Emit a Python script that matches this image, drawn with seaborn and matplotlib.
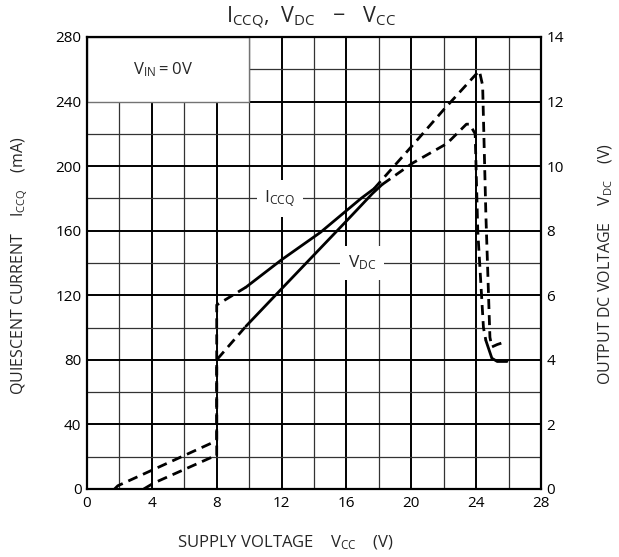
import numpy as np
import pandas as pd
import matplotlib
matplotlib.use("Agg")
import matplotlib.pyplot as plt
from matplotlib.patches import Rectangle
import seaborn as sns

sns.set_theme(style="white")
plt.rcParams["font.family"] = ["Open Sans", "DejaVu Sans"]
plt.rcParams["mathtext.default"] = "regular"

# supply voltage Vcc (V) vs quiescent current Iccq (mA), split into dashed / solid pieces
iccq_dash1_x = [1.7, 1.9, 7.8, 8.0, 8.0, 9.8]
iccq_dash1_y = [0, 2, 29, 30, 114, 125]
iccq_solid_x = [9.8, 12.0, 14.4, 16.9, 17.7]
iccq_solid_y = [125, 142, 159, 180, 186]
iccq_dash2_x = [17.7, 20.0, 22.0, 24.0, 24.2, 24.4, 24.6, 24.85, 24.97, 25.3, 25.9]
iccq_dash2_y = [186, 212, 235, 257, 259, 250, 170, 94, 88, 89.5, 91.5]

# output DC voltage Vdc (V)
vdc_solid1_x = [2.5, 3.5]
vdc_solid1_y = [0, 0]
vdc_dash1_x = [3.5, 4.1, 7.9, 8.0, 8.0, 9.8]
vdc_dash1_y = [0, 0.18, 1.03, 1.03, 4.0, 5.04]
vdc_solid2_x = [9.8, 12.0, 14.0, 16.0, 17.6, 18.2]
vdc_solid2_y = [5.04, 6.2, 7.25, 8.3, 9.15, 9.43]
vdc_dash2_x = [18.2, 20.1, 22.2, 23.4, 23.6, 23.94, 24.1, 24.45, 24.6]
vdc_dash2_y = [9.43, 10.1, 10.7, 11.3, 11.3, 11.0, 8.0, 5.0, 4.6]
vdc_solid3_x = [24.6, 24.97, 25.3, 25.9]
vdc_solid3_y = [4.6, 4.05, 3.95, 3.95]

x_ticks = [0, 4, 8, 12, 16, 20, 24, 28]
left_ticks = [0, 40, 80, 120, 160, 200, 240, 280]
right_ticks = [0, 2, 4, 6, 8, 10, 12, 14]


def frame(pieces):
    rows = []
    for i, (xs, ys, ls) in enumerate(pieces):
        for x, y in zip(xs, ys):
            rows.append({"vcc": x, "val": y, "seg": i, "ls": ls})
    return pd.DataFrame(rows)


df_i = frame([(iccq_dash1_x, iccq_dash1_y, "dashed"),
              (iccq_solid_x, iccq_solid_y, "solid"),
              (iccq_dash2_x, iccq_dash2_y, "dashed")])
df_v = frame([(vdc_solid1_x, vdc_solid1_y, "solid"),
              (vdc_dash1_x, vdc_dash1_y, "dashed"),
              (vdc_solid2_x, vdc_solid2_y, "solid"),
              (vdc_dash2_x, vdc_dash2_y, "dashed"),
              (vdc_solid3_x, vdc_solid3_y, "solid")])

dash_map = {"solid": "", "dashed": (3.6, 2.2)}

fig = plt.figure(figsize=(6.19, 5.57), dpi=100)
ax = fig.add_axes([87 / 619, 1 - 489 / 557, 454 / 619, 452 / 557])
ax.set_xlim(0, 28)
ax.set_ylim(0, 280)
ax.set_xticks(x_ticks)
ax.set_yticks(left_ticks)
ax.set_xticks(np.arange(0, 29, 2), minor=True)
ax.set_yticks(np.arange(0, 281, 20), minor=True)
ax.set_axisbelow(True)
ax.grid(which="major", color="black", lw=1.4)
ax.grid(which="minor", color="0.2", lw=0.9)
ax.tick_params(which="both", length=0, labelsize=11, colors="black")
ax.tick_params(axis="x", pad=5)
ax.tick_params(axis="y", pad=4)
for s in ax.spines.values():
    s.set_color("black")
    s.set_linewidth(1.6)

# blank box with the test condition
ax.add_patch(Rectangle((0, 240), 10, 40, facecolor="white", edgecolor="0.45",
                       lw=1.0, zorder=1))
ax.text(4.7, 260, r"$V_{IN} = 0V$", ha="center", va="center", fontsize=12, zorder=3)

sns.lineplot(data=df_i, x="vcc", y="val", units="seg", style="ls", dashes=dash_map,
             estimator=None, sort=False, color="black", lw=2.0, legend=False, ax=ax,
             zorder=2)
ax.set_xlabel("")
ax.set_ylabel("")

ax2 = ax.twinx()
ax2.set_ylim(0, 14)
ax2.set_yticks(right_ticks)
ax2.grid(False)
ax2.tick_params(length=0, labelsize=11, pad=4, colors="black")
for s in ax2.spines.values():
    s.set_visible(False)
sns.lineplot(data=df_v, x="vcc", y="val", units="seg", style="ls", dashes=dash_map,
             estimator=None, sort=False, color="black", lw=2.0, legend=False, ax=ax2)
ax2.set_xlabel("")
ax2.set_ylabel("")

box = dict(boxstyle="square,pad=0.45", facecolor="white", edgecolor="none")
ax.text(11.9, 180, r"$I_{CCQ}$", ha="center", va="center", fontsize=12.5, bbox=box, zorder=3)
ax.text(16.95, 140, r"$V_{DC}$", ha="center", va="center", fontsize=12.5, bbox=box, zorder=3)

fig.text(311 / 619, 1 - 17 / 557, r"$I_{CCQ},\ V_{DC}\ \ -\ \ V_{CC}$", ha="center",
         va="center", fontsize=15.5)
fig.text(285 / 619, 1 - 543 / 557, r"SUPPLY VOLTAGE    $V_{CC}$    (V)", ha="center",
         va="center", fontsize=12)
fig.text(20 / 619, 1 - 266 / 557, r"QUIESCENT CURRENT    $I_{CCQ}$    (mA)", ha="center",
         va="center", rotation=90, fontsize=11.5)
fig.text(606 / 619, 1 - 264 / 557, r"OUTPUT DC VOLTAGE    $V_{DC}$    (V)", ha="center",
         va="center", rotation=90, fontsize=11.5)

fig.savefig("out.png", dpi=100, facecolor="white")
